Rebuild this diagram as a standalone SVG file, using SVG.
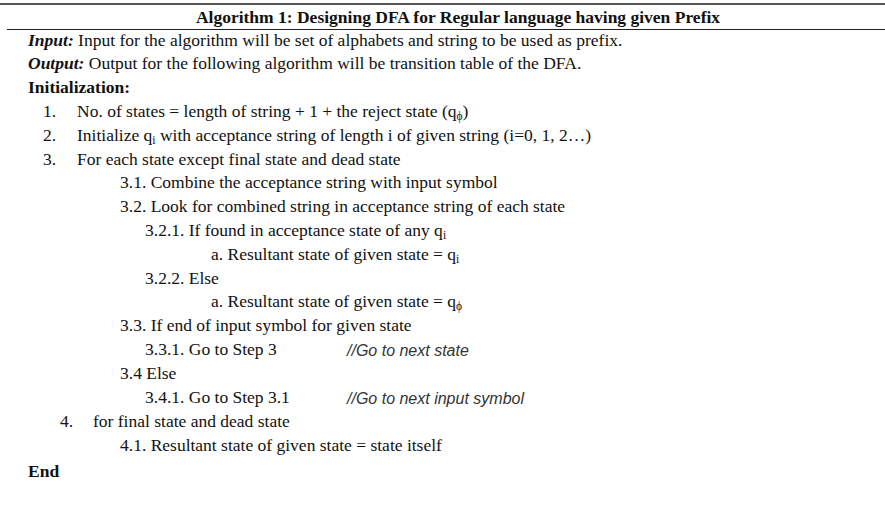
<svg xmlns="http://www.w3.org/2000/svg" width="885" height="505" viewBox="0 0 885 505">
<style>
.t{font-family:"Liberation Serif","Times New Roman",serif;font-size:17.5px;fill:#111}
.b{font-weight:bold}
.bi{font-weight:bold;font-style:italic}
.c{font-family:"Liberation Sans",Arial,sans-serif;font-style:italic;font-size:16px;fill:#333}
.s{font-size:11.5px}
</style>
<rect width="885" height="505" fill="#fff"/>
<g id="rules">
<line x1="0" y1="4" x2="885" y2="4" stroke="#555" stroke-width="2"/>
<line x1="7" y1="29.5" x2="885" y2="29.5" stroke="#222" stroke-width="1"/>
</g>
<g id="title"><text class="t b" x="458" y="23" text-anchor="middle">Algorithm 1: Designing DFA for Regular language having given Prefix</text></g>
<g id="body">
<text class="t" x="28" y="46"><tspan class="bi">Input:</tspan> Input for the algorithm will be set of alphabets and string to be used as prefix.</text>
<text class="t" x="28" y="69"><tspan class="bi">Output:</tspan> Output for the following algorithm will be transition table of the DFA.</text>
<text class="t b" x="28" y="92.5">Initialization:</text>
<text class="t" x="43" y="117">1.</text>
<text class="t" x="77" y="117">No. of states = length of string + 1 + the reject state (q<tspan class="s" dy="3">ϕ</tspan><tspan dy="-3">)</tspan></text>
<text class="t" x="43" y="141">2.</text>
<text class="t" x="77" y="141">Initialize q<tspan class="s" dy="3">i</tspan><tspan dy="-3"> with acceptance string of length i of given string (i=0, 1, 2…)</tspan></text>
<text class="t" x="43" y="164.5">3.</text>
<text class="t" x="77" y="164.5">For each state except final state and dead state</text>
<text class="t" x="120" y="188">3.1. Combine the acceptance string with input symbol</text>
<text class="t" x="120" y="212">3.2. Look for combined string in acceptance string of each state</text>
<text class="t" x="145" y="236">3.2.1. If found in acceptance state of any q<tspan class="s" dy="3">i</tspan></text>
<text class="t" x="211" y="260">a. Resultant state of given state = q<tspan class="s" dy="3">i</tspan></text>
<text class="t" x="145" y="283.5">3.2.2. Else</text>
<text class="t" x="211" y="307">a. Resultant state of given state = q<tspan class="s" dy="3">ϕ</tspan></text>
<text class="t" x="120" y="331">3.3. If end of input symbol for given state</text>
<text class="t" x="145" y="355">3.3.1. Go to Step 3</text>
<text class="c" x="347" y="356">//Go to next state</text>
<text class="t" x="120" y="379">3.4 Else</text>
<text class="t" x="145" y="403">3.4.1. Go to Step 3.1</text>
<text class="c" x="347" y="404">//Go to next input symbol</text>
<text class="t" x="60" y="427">4.</text>
<text class="t" x="93" y="427">for final state and dead state</text>
<text class="t" x="120" y="451">4.1. Resultant state of given state = state itself</text>
<text class="t b" x="28" y="477">End</text>
</g>
</svg>
